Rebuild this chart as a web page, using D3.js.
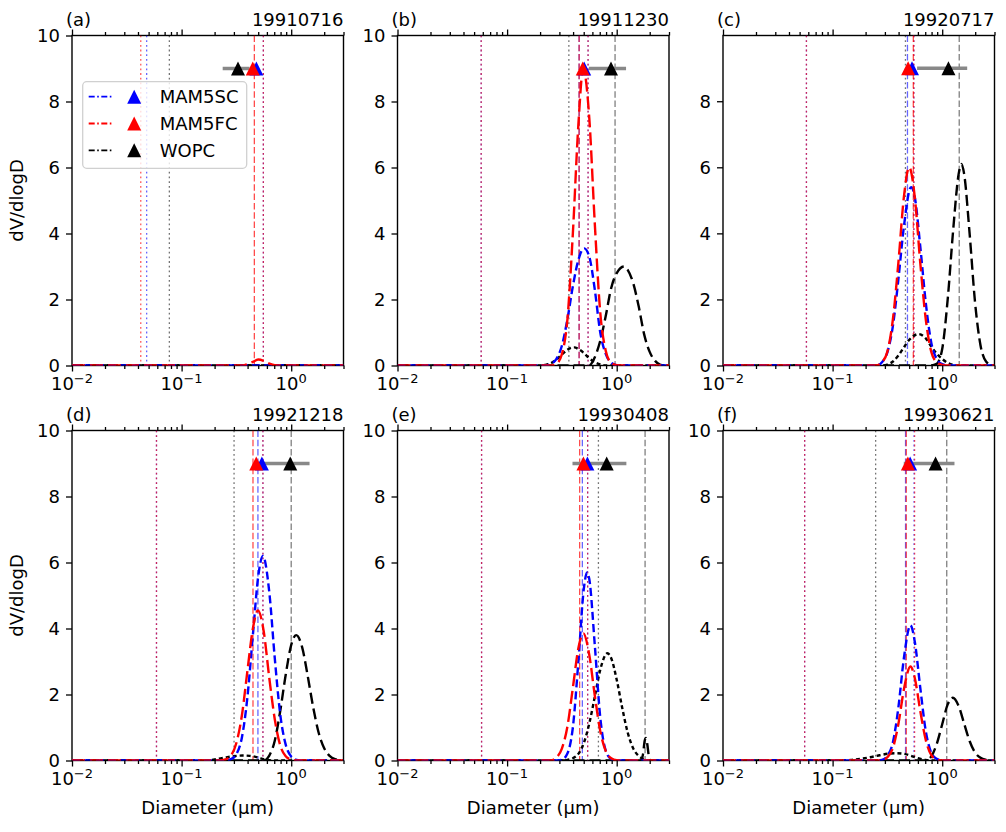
<!DOCTYPE html>
<html>
<head>
<meta charset="utf-8">
<script src="https://cdn.jsdelivr.net/npm/d3@7"></script>
<style>
body { margin: 0; background: #fff; }
svg text { font-family: "DejaVu Sans", sans-serif; fill: #000; }
</style>
</head>
<body>
<svg id="fig" width="1006" height="832"></svg>
<script>
// panel tags, dates and axis limits
const panelTags = ["(a)", "(b)", "(c)", "(d)", "(e)", "(f)"];
const dates = ["19910716", "19911230", "19920717", "19921218", "19930408", "19930621"];
const yMax = [10, 10, 9.99, 10, 10, 10];
const yTicks = [0, 2, 4, 6, 8, 10];
const xMajor = [0.01, 0.1, 1];
const xMinor = [0.02, 0.03, 0.04, 0.05, 0.06, 0.07, 0.08, 0.09,
                0.2, 0.3, 0.4, 0.5, 0.6, 0.7, 0.8, 0.9, 2, 3];
const seriesNames = ["MAM5SC", "MAM5FC", "WOPC"];

// dV/dlogD curves as [diameter (um), value], one list per panel
const mam5sc = [
    [[0.01,0],[3,0]],
    [[0.01,0],[0.22,0],[0.251,0.05],[0.282,0.2],[0.316,0.6],[0.355,1.4],[0.398,2.4],[0.447,3.2],[0.505,3.55],[0.562,3.3],[0.631,2.3],[0.708,1.0],[0.794,0.35],[0.891,0.08],[1.0,0.01],[1.12,0],[3,0]],
    [[0.01,0],[0.25,0],[0.282,0.1],[0.316,0.4],[0.355,1.2],[0.398,2.6],[0.447,4.2],[0.52,5.4],[0.562,5.1],[0.631,3.6],[0.708,1.9],[0.794,0.7],[0.891,0.2],[1.0,0.04],[1.12,0],[3,0]],
    [[0.01,0],[0.25,0],[0.282,0.04],[0.316,0.19],[0.355,0.7],[0.398,1.9],[0.447,3.8],[0.501,5.6],[0.552,6.2],[0.631,5.1],[0.708,3.1],[0.794,1.4],[0.891,0.48],[1.0,0.12],[1.12,0.02],[1.26,0],[3,0]],
    [[0.01,0],[0.29,0],[0.316,0.02],[0.355,0.21],[0.398,1.0],[0.447,3.0],[0.501,5.2],[0.537,5.7],[0.562,5.5],[0.631,3.5],[0.708,1.3],[0.794,0.3],[0.891,0.04],[1.0,0],[3,0]],
    [[0.01,0],[0.25,0],[0.282,0.02],[0.316,0.14],[0.355,0.55],[0.398,1.6],[0.447,3.1],[0.513,4.1],[0.562,3.6],[0.631,2.2],[0.708,0.89],[0.794,0.24],[0.891,0.05],[1.0,0],[3,0]]
];
const mam5fc = [
    [[0.01,0],[0.36,0],[0.40,0.04],[0.447,0.11],[0.50,0.18],[0.562,0.14],[0.631,0.06],[0.708,0.01],[0.8,0],[3,0]],
    [[0.01,0],[0.25,0],[0.282,0.05],[0.316,0.34],[0.355,1.4],[0.398,4.0],[0.447,7.3],[0.495,9.0],[0.562,7.5],[0.631,4.3],[0.708,1.6],[0.794,0.45],[0.891,0.08],[1.0,0.01],[1.12,0],[3,0]],
    [[0.01,0],[0.25,0],[0.282,0.1],[0.316,0.42],[0.355,1.4],[0.398,3.1],[0.447,5.1],[0.50,6.0],[0.562,5.1],[0.631,3.1],[0.708,1.4],[0.794,0.42],[0.891,0.1],[1.0,0.02],[1.12,0],[3,0]],
    [[0.01,0],[0.22,0],[0.251,0.03],[0.282,0.15],[0.316,0.53],[0.355,1.37],[0.398,2.7],[0.447,4.0],[0.497,4.55],[0.562,3.9],[0.631,2.5],[0.708,1.25],[0.794,0.46],[0.891,0.13],[1.0,0.03],[1.12,0],[3,0]],
    [[0.01,0],[0.25,0],[0.282,0.09],[0.316,0.36],[0.355,1.03],[0.398,2.2],[0.447,3.4],[0.497,3.85],[0.562,3.2],[0.631,1.97],[0.708,0.89],[0.794,0.29],[0.891,0.07],[1.0,0.01],[1.12,0],[3,0]],
    [[0.01,0],[0.25,0],[0.282,0.01],[0.316,0.1],[0.355,0.38],[0.398,1.1],[0.447,2.15],[0.513,2.85],[0.562,2.5],[0.631,1.5],[0.708,0.62],[0.794,0.17],[0.891,0.03],[1.0,0],[3,0]]
];
const wopcFine = [
    [[0.01,0],[3,0]],
    [[0.01,0],[0.2,0],[0.224,0.02],[0.251,0.07],[0.282,0.18],[0.316,0.33],[0.355,0.48],[0.41,0.55],[0.447,0.5],[0.501,0.38],[0.562,0.22],[0.631,0.1],[0.708,0.03],[0.794,0],[3,0]],
    [[0.01,0],[0.29,0],[0.316,0.03],[0.355,0.12],[0.398,0.3],[0.447,0.55],[0.501,0.78],[0.61,0.95],[0.708,0.82],[0.794,0.58],[0.891,0.36],[1.0,0.2],[1.122,0.08],[1.259,0.02],[1.413,0],[3,0]],
    [[0.01,0],[0.16,0],[0.2,0.03],[0.25,0.09],[0.3,0.13],[0.36,0.15],[0.42,0.14],[0.5,0.09],[0.56,0.04],[0.63,0.01],[0.7,0],[3,0]],
    [[0.01,0],[0.32,0],[0.355,0.02],[0.398,0.07],[0.447,0.2],[0.501,0.53],[0.562,1.12],[0.631,1.93],[0.708,2.75],[0.822,3.25],[0.891,3.1],[1.0,2.45],[1.122,1.6],[1.259,0.85],[1.413,0.37],[1.585,0.14],[1.778,0.04],[1.995,0],[3,0]],
    [[0.01,0],[0.12,0],[0.15,0.02],[0.18,0.05],[0.22,0.1],[0.27,0.16],[0.33,0.21],[0.38,0.22],[0.45,0.2],[0.52,0.14],[0.6,0.07],[0.7,0.02],[0.8,0],[3,0]]
];
const wopcCoarse = [
    [[0.01,0],[3,0]],
    [[0.01,0],[0.56,0],[0.631,0.25],[0.708,0.75],[0.794,1.5],[0.891,2.35],[1.0,2.8],[1.17,3.0],[1.259,2.9],[1.413,2.5],[1.585,1.8],[1.778,0.95],[1.995,0.42],[2.239,0.14],[2.512,0.02],[2.818,0],[3,0]],
    [[0.01,0],[0.794,0],[0.891,0.05],[1.0,0.5],[1.122,2.0],[1.259,4.1],[1.413,5.8],[1.5,6.1],[1.585,5.8],[1.778,4.0],[1.995,1.9],[2.239,0.6],[2.512,0.12],[2.818,0.01],[3,0]],
    [[0.01,0],[0.56,0],[0.631,0.15],[0.708,0.6],[0.794,1.5],[0.891,2.6],[1.0,3.5],[1.11,3.8],[1.259,3.43],[1.413,2.57],[1.585,1.62],[1.778,0.85],[1.995,0.38],[2.239,0.14],[2.512,0.04],[2.818,0.01],[3,0]],
    [[0.01,0],[1.66,0],[1.74,0.2],[1.80,0.6],[1.85,0.68],[1.90,0.5],[1.96,0.15],[2.02,0],[3,0]],
    [[0.01,0],[0.708,0],[0.794,0.12],[0.891,0.5],[1.0,1.1],[1.122,1.7],[1.25,1.9],[1.413,1.65],[1.585,1.12],[1.778,0.59],[1.995,0.24],[2.239,0.08],[2.512,0.02],[2.818,0],[3,0]]
];

// triangle markers (effective diameter) at y = 9, WOPC with x error
const markY = 9;
const markSC = [0.481, 0.505, 0.53, 0.54, 0.54, 0.51];
const markFC = [0.446, 0.49, 0.489, 0.48, 0.497, 0.486];
const markWO = [0.327, 0.887, 1.14, 0.98, 0.81, 0.87];
const errWO = [0.09, 0.33, 0.55, 0.49, 0.415, 0.424];

// vertical reference lines per panel
const dotSC = [[0.048, 0.557], [0.058, 0.548], [0.0577, 0.551], [0.059, 0.552], [0.0585, 0.543], [0.0556, 0.553]];
const dotFC = [[0.0424, 0.557], [0.058, 0.548], [0.0577, 0.551], [0.059, 0.552], [0.0585, 0.543], [0.0556, 0.56]];
const dotWO = [[0.0773], [0.366], [0.462], [0.301], [0.681], [0.247]];
const dashSC = [[], [0.454], [0.482], [0.497], [0.486], [0.463]];
const dashFC = [[0.461], [0.454], [0.545], [0.448], [0.459], [0.47]];
const dashWO = [[], [0.966], [1.43], [1.0], [1.815], [1.10]];

// layout
let colX = [72, 397.5, 723], rowY = [35.5, 430.5];
let pw = 271.5, ph = 330;
let fontSize = "18px";
let blue = "#0000ff", red = "#ff0000", black = "#000000";

let svg = d3.select("#fig");

panelTags.forEach(function(tag, i) {
    drawPanel(i);
});
drawLegend();

function drawPanel(i) {
    let g = svg.append("g")
        .attr("transform", "translate(" + colX[i % 3] + "," + rowY[Math.floor(i / 3)] + ")");

    let x = d3.scaleLog().domain([0.01, 3]).range([0, pw]);
    let y = d3.scaleLinear().domain([0, yMax[i]]).range([ph, 0]);

    g.append("clipPath").attr("id", "clip" + i)
        .append("rect").attr("width", pw).attr("height", ph);

    // frame first so that curves lie on the bottom spine
    g.append("rect")
        .attr("width", pw).attr("height", ph)
        .attr("fill", "none").attr("stroke", "#000").attr("stroke-width", 1.4);

    let plot = g.append("g").attr("clip-path", "url(#clip" + i + ")");

    // vertical lines, red drawn last
    let vlines = [
        [dotWO[i], black, "1.8,2.9", 0.55], [dashWO[i], black, "6.5,2.8", 0.5],
        [dotSC[i], blue, "1.8,2.9", 0.6], [dashSC[i], blue, "6.5,2.8", 0.6],
        [dotFC[i], red, "1.8,2.9", 0.65], [dashFC[i], red, "6.5,2.8", 0.7]
    ];
    vlines.forEach(function(v) {
        plot.selectAll(null).data(v[0]).enter().append("line")
            .attr("x1", d => x(d)).attr("x2", d => x(d))
            .attr("y1", 0).attr("y2", ph)
            .attr("stroke", v[1]).attr("stroke-width", 1.3)
            .attr("stroke-opacity", v[3])
            .attr("stroke-dasharray", v[2]);
    });

    // curves
    let line = d3.line()
        .x(d => x(d[0]))
        .y(d => y(d[1]))
        .curve(d3.curveMonotoneX);
    let curves = [
        [wopcFine[i], black, "4,3"],
        [wopcCoarse[i], black, "11,5"],
        [mam5sc[i], blue, "8,4"],
        [mam5fc[i], red, "13,5"]
    ];
    curves.forEach(function(c) {
        plot.append("path")
            .attr("d", line(c[0]))
            .attr("fill", "none")
            .attr("stroke", c[1]).attr("stroke-width", 2.4)
            .attr("stroke-dasharray", c[2]);
    });

    // markers at y = 9
    g.append("line")
        .attr("x1", x(markWO[i] - errWO[i])).attr("x2", x(markWO[i] + errWO[i]))
        .attr("y1", y(markY)).attr("y2", y(markY))
        .attr("stroke", "#888").attr("stroke-width", 3.5);
    [[markSC, blue], [markFC, red], [markWO, black]].forEach(function(m) {
        g.append("path")
            .attr("d", triangle(x(m[0][i]), y(markY), 14))
            .attr("fill", m[1]);
    });

    // axes
    let fmt = () => "";
    g.append("g").attr("transform", "translate(0," + ph + ")")
        .call(d3.axisBottom(x).tickValues(xMajor).tickSize(6).tickFormat(fmt));
    g.append("g").attr("transform", "translate(0," + ph + ")")
        .call(d3.axisBottom(x).tickValues(xMinor).tickSize(3.5).tickFormat(fmt));
    g.append("g")
        .call(d3.axisTop(x).tickValues(xMajor).tickSize(6).tickFormat(fmt));
    g.append("g")
        .call(d3.axisTop(x).tickValues(xMinor).tickSize(3.5).tickFormat(fmt));
    let yAxis = g.append("g")
        .call(d3.axisLeft(y).tickValues(yTicks.filter(t => t <= yMax[i])).tickSize(6).tickPadding(6));
    g.selectAll(".domain").remove();
    g.selectAll(".tick line").attr("stroke", "#000").attr("stroke-width", 1.3);
    yAxis.selectAll("text")
        .style("font-size", fontSize)
        .style("font-family", "DejaVu Sans");

    // x tick labels as powers of ten
    g.selectAll(".xlab").data(xMajor).enter().append("text")
        .attr("class", "xlab")
        .attr("x", d => x(d)).attr("y", ph + 24)
        .attr("text-anchor", "middle")
        .style("font-size", fontSize)
        .each(function(d) {
            let t = d3.select(this);
            t.append("tspan").text("10");
            t.append("tspan").attr("dy", -7).style("font-size", "13px")
                .text(String(Math.round(Math.log10(d))).replace("-", "\u2212"));
        });

    // titles
    g.append("text").attr("x", -6).attr("y", -10)
        .style("font-size", fontSize).text(panelTags[i]);
    g.append("text").attr("x", pw).attr("y", -10)
        .attr("text-anchor", "end")
        .style("font-size", fontSize).text(dates[i]);

    if (i % 3 === 0) {
        g.append("text")
            .attr("transform", "translate(" + (23 - colX[0]) + "," + (ph / 2) + ") rotate(-90)")
            .attr("text-anchor", "middle")
            .style("font-size", fontSize).text("dV/dlogD");
    }
    if (i >= 3) {
        g.append("text").attr("x", pw / 2).attr("y", ph + 53)
            .attr("text-anchor", "middle")
            .style("font-size", fontSize).text("Diameter (\u00b5m)");
    }
}

function triangle(cx, cy, s) {
    return "M" + cx + "," + (cy - s / 2) +
        "L" + (cx - s / 2) + "," + (cy + s / 2) +
        "L" + (cx + s / 2) + "," + (cy + s / 2) + "Z";
}

// legend inside panel (a)
function drawLegend() {
    let lg = svg.append("g").attr("transform", "translate(" + (colX[0] + 10.7) + "," + (rowY[0] + 46.2) + ")");
    lg.append("rect")
        .attr("width", 164).attr("height", 86.6).attr("rx", 4)
        .attr("fill", "#fff").attr("fill-opacity", 0.8)
        .attr("stroke", "#d0d0d0").attr("stroke-width", 1.3);
    let cols = [blue, red, black];
    seriesNames.forEach(function(name, k) {
        let cy = 15 + k * 26.8;
        lg.append("line")
            .attr("x1", 6).attr("x2", 31).attr("y1", cy).attr("y2", cy)
            .attr("stroke", cols[k]).attr("stroke-width", 1.8)
            .attr("stroke-dasharray", "6,2.5,1.6,2.5");
        lg.append("path").attr("d", triangle(51.5, cy, 14)).attr("fill", cols[k]);
        lg.append("text").attr("x", 77).attr("y", cy).attr("dy", "0.36em")
            .style("font-size", fontSize).text(name);
    });
}
</script>
</body>
</html>
